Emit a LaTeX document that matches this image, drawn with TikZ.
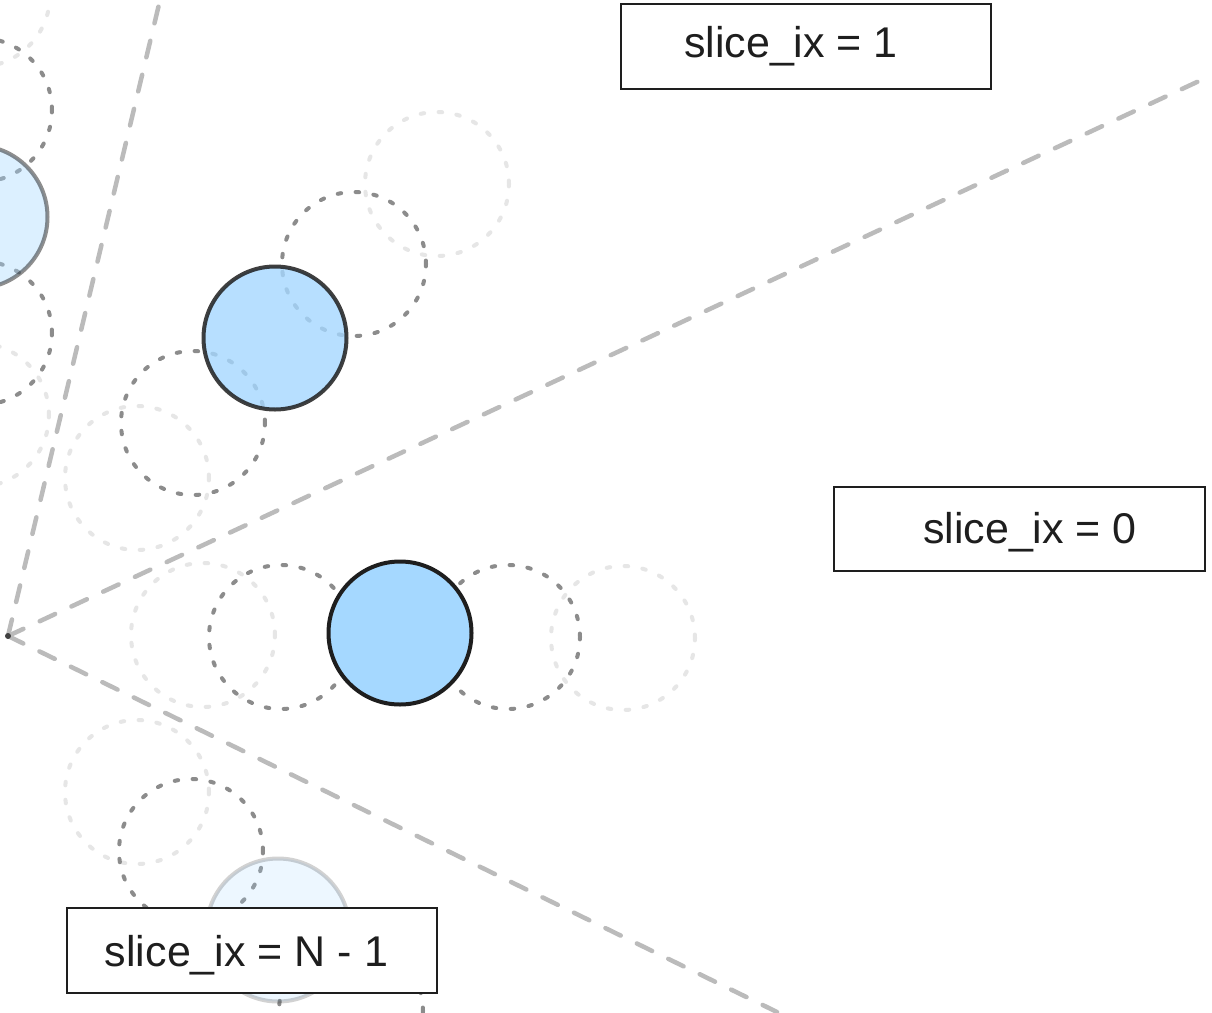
\documentclass[tikz,border=0pt]{standalone}
\usepackage{fontspec}
\setmainfont{Liberation Sans}
\definecolor{ink}{HTML}{1E1E1E}
\definecolor{bluefill}{HTML}{A5D8FF}
\definecolor{dotdark}{HTML}{8C8C8C}
\definecolor{dotlight}{HTML}{E6E6E6}
\definecolor{dashgray}{HTML}{BBBBBB}
\begin{document}
\begin{tikzpicture}[x=1pt,y=-1pt,
  ghostring/.style={circle,inner sep=0pt,minimum size=144pt,draw=dotlight,line width=4pt,dash pattern=on 3.5pt off 14.5pt,line cap=round},
  darkring/.style={ghostring,draw=dotdark},
  ball/.style={circle,inner sep=0pt,minimum size=143pt,fill=bluefill,draw=ink,line width=4pt},
  slicebound/.style={draw=dashgray,line width=4.5pt,dash pattern=on 17pt off 18pt,line cap=round},
  tagbox/.style={rectangle,draw=ink,fill=white,line width=2.8pt,inner sep=0pt},
  tagtext/.style={font=\fontsize{43}{50}\selectfont,text=ink,inner sep=0pt,anchor=base}]
\useasboundingbox (0,0) rectangle (1212,1012);
\clip (0,0) rectangle (1212,1012);
\fill[white] (0,0) rectangle (1212,1012);

% slice boundaries
\coordinate (o) at (8,636);
\coordinate (e1) at (1212,75);
\coordinate (e2) at (161,-4);
\coordinate (e3) at (777,1012);
\draw[slicebound] (o) -- (e1);
\draw[slicebound] (o) -- (e2);
\draw[slicebound] (o) -- (e3);
\fill[ink!85] (o) circle (3);

% light ghost rings
\node[ghostring] (g0a) at (203,635) {};
\node[ghostring] (g0b) at (623,638) {};
\node[ghostring] (g1a) at (437,184) {};
\node[ghostring] (g1b) at (137,478) {};
\node[ghostring] (g2a) at (-22,-5) {};
\node[ghostring] (g2b) at (-23,415) {};
\node[ghostring] (g3a) at (137,792) {};

% dark dotted rings
\node[darkring] (d0a) at (281,637) {};
\node[darkring] (d0b) at (508,637) {};
\node[darkring] (d1a) at (354,264) {};
\node[darkring] (d1b) at (193,423) {};
\node[darkring] (d2a) at (-20,110) {};
\node[darkring] (d2b) at (-20,333) {};
\node[darkring] (d3a) at (191,851) {};
\node[darkring] (d3b) at (351,1011) {};

% balls
\node[ball] (b0) at (400,633) {};
\node[ball,fill opacity=0.8,draw opacity=0.85] (b1) at (275,338) {};
\node[ball,fill opacity=0.38,draw opacity=0.5] (b2) at (-24,217) {};
\node[ball,fill opacity=0.2,draw opacity=0.2] (b3) at (278,930) {};

% labels
\node[tagbox,minimum width=370pt,minimum height=85pt] (t1) at (806,46.5) {};
\node[tagbox,minimum width=371pt,minimum height=84pt] (t0) at (1019.5,529) {};
\node[tagbox,minimum width=370pt,minimum height=85pt] (tn) at (252,950.5) {};
\node[tagtext] (l1) at (791,57) {slice\_ix = 1};
\node[tagtext] (l0) at (1030,543) {slice\_ix = 0};
\node[tagtext] (ln) at (246.5,966) {slice\_ix = N - 1};
\end{tikzpicture}
\end{document}
